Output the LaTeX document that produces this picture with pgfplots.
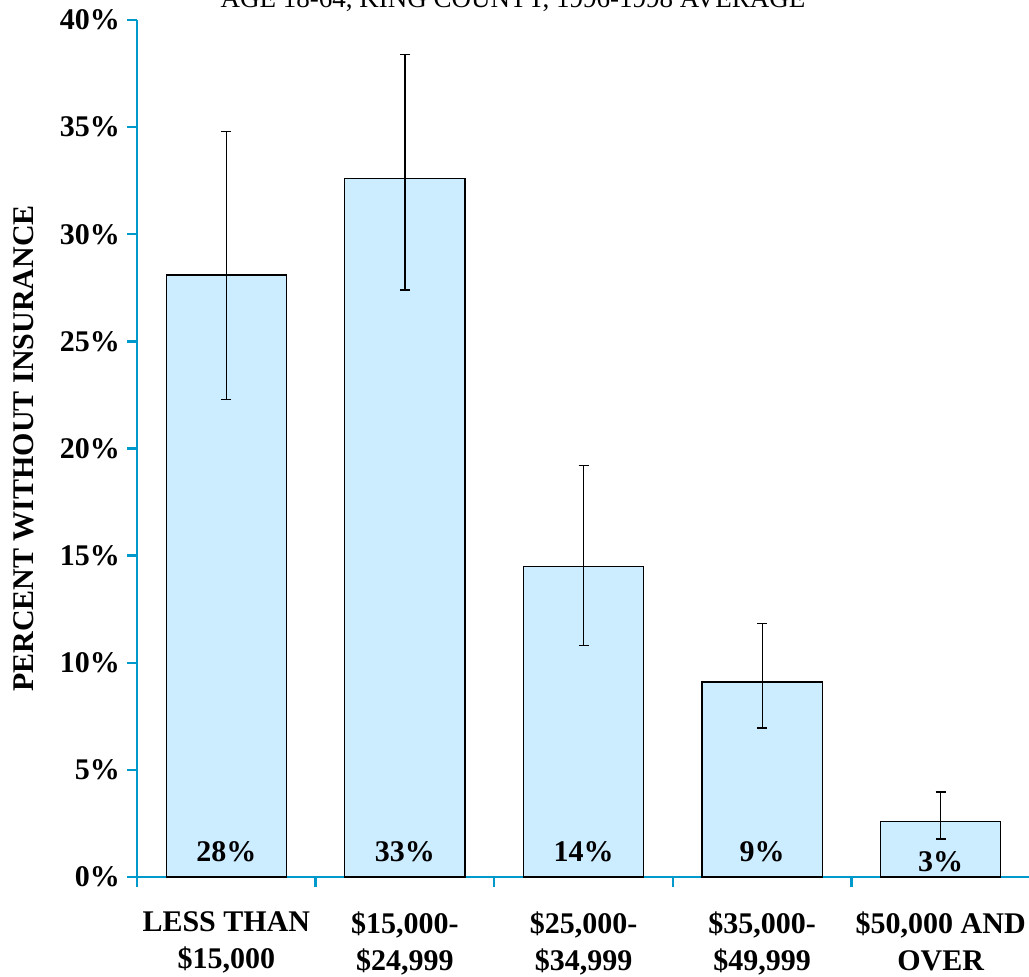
\documentclass[border=0pt]{standalone}
\usepackage{pgfplots}
\pgfplotsset{compat=1.18}
\usepackage{fontspec}
\setmainfont{Liberation Serif}
\definecolor{axblue}{RGB}{0,153,204}
\definecolor{barblue}{RGB}{204,236,255}
\begin{document}
\begin{tikzpicture}
\begin{axis}[
  scale only axis, width=446.5pt, height=428.5pt,
  xmin=-0.5, xmax=4.5, ymin=0, ymax=40,
  axis lines=left, axis line style={axblue, line width=1.2pt, -},
  tick style={axblue, line width=1.2pt}, tick align=outside,
  ytick={0,5,...,40}, yticklabel={\pgfmathprintnumber{\tick}\%},
  yticklabel style={font=\fontsize{15}{17}\selectfont\bfseries},
  /pgf/number format/assume math mode=true,
  major tick length=5pt, minor tick length=5pt,
  xtick={0,1,2,3,4}, minor xtick={-0.5,0.5,1.5,2.5,3.5,4.5},
  x tick style={draw=none}, minor x tick style={draw=axblue,line width=1.2pt},
  xticklabels={{LESS THAN\\\$15,000},{\$15,000-\\\$24,999},{\$25,000-\\\$34,999},{\$35,000-\\\$49,999},{\$50,000 AND\\OVER}},
  xticklabel style={align=center, font=\fontsize{15}{18.5}\selectfont\bfseries, yshift=-9pt},
  ylabel={PERCENT WITHOUT INSURANCE},
  ylabel style={font=\fontsize{15}{17}\selectfont\bfseries, yshift=6pt},
  clip=false,
]
\addplot[ybar, bar width=0.672, fill=barblue, draw=black, line width=0.6pt,
  error bars/.cd, y dir=both, y explicit,
  error bar style={black, line width=0.6pt},
  error mark options={rotate=90, mark size=2.5pt, black, line width=0.6pt}]
coordinates {
 (0,28.1) += (0,6.7) -= (0,5.8)
 (1,32.6) += (0,5.8) -= (0,5.2)
 (2,14.5) += (0,4.7) -= (0,3.7)
 (3,9.1) += (0,2.75) -= (0,2.15)
 (4,2.6) += (0,1.37) -= (0,0.83)
};
\node[font=\fontsize{15}{17}\selectfont\bfseries] at (axis cs:0,1.2) {28\%};
\node[font=\fontsize{15}{17}\selectfont\bfseries] at (axis cs:1,1.2) {33\%};
\node[font=\fontsize{15}{17}\selectfont\bfseries] at (axis cs:2,1.2) {14\%};
\node[font=\fontsize{15}{17}\selectfont\bfseries] at (axis cs:3,1.2) {9\%};
\node[font=\fontsize{15}{17}\selectfont\bfseries] at (axis cs:4,0.7) {3\%};
\node[anchor=base, font=\fontsize{13.5}{15}\selectfont] at ([yshift=6pt]rel axis cs:0.421,1) {AGE 18-64, KING COUNTY, 1996-1998 AVERAGE};
\end{axis}
\pgfresetboundingbox
\path ([xshift=-68.5pt,yshift=-49.5pt]current axis.south west) rectangle ([xshift=-0.5pt,yshift=10pt]current axis.north east);
\end{tikzpicture}
\end{document}
